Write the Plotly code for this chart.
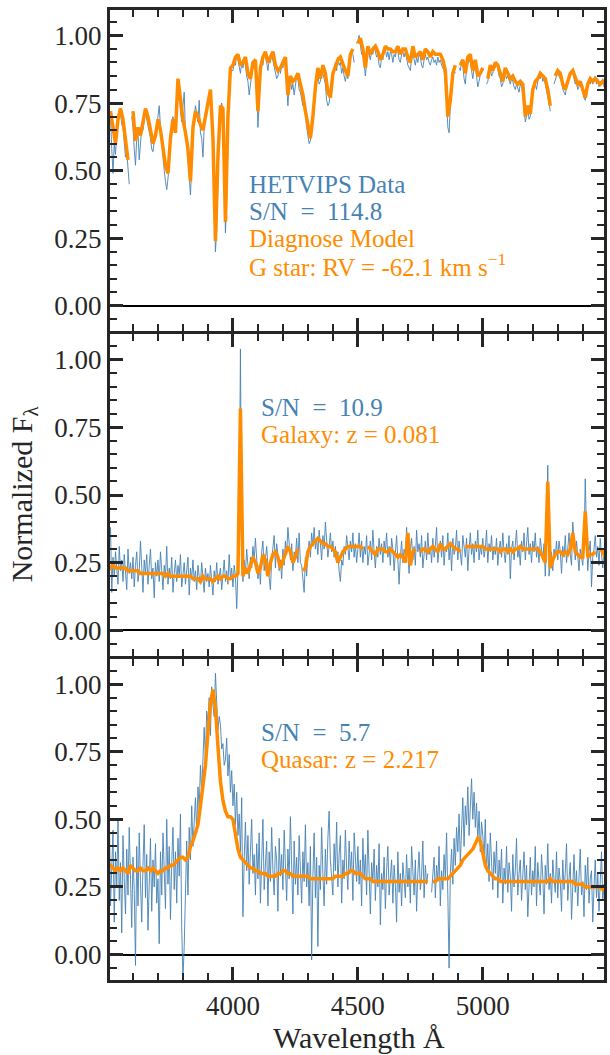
import numpy as np
import plotly.graph_objects as go
from plotly.subplots import make_subplots

# Wavelength sampling (Angstrom): model on a 10 A grid, spectra on a 5 A grid
MODEL_WAVE = np.arange(3500, 5500, 10)
DATA_WAVE = np.arange(3500, 5500, 5)

# Normalized flux values in hundredths; None marks masked pixels.
# ---------------- G star ----------------
STAR_MODEL = [
    68, 72, 66, 60, 69, 73, 69, 60, 54, None,
    72, 61, 66, 63, 68, 73, 70, 65, 60, 63,
    69, 65, 58, 52, 49, 62, 69, 64, 84, 75,
    69, 64, 58, 46, 66, 72, 70, 67, 65, 70,
    76, 80, 62, 24, 55, 74, 73, 31, 70, 88,
    89, 92, 93, 89, 90, 92, 86, 84, 90, 91,
    72, 88, 92, 94, 90, 92, 94, 89, 87, 88,
    90, 92, 78, 85, 83, 84, 86, 82, 78, 72,
    66, 62, 70, 81, 88, 84, 89, 86, 79, 77,
    86, 89, 91, 92, 89, 87, 85, 93, 95, None,
    97, 99, 95, 88, 96, 93, 95, 96, 94, 91,
    93, 96, 95, 95, 94, 94, 96, 93, 95, 95,
    92, 90, 96, 92, 93, 94, 91, 95, 94, 92,
    94, 93, 93, 93, 91, 87, 70, 76, 86, 89,
    None, 89, 91, 86, 92, 93, 87, 91, 85, 86,
    88, None, 84, 89, 87, 90, 89, 86, 83, 88,
    86, 84, 85, 83, 82, 83, 82, 70, 74, 71,
    80, 83, 84, 86, 85, 84, 80, 74, None, 85,
    87, 86, 82, 80, 83, 86, 87, 84, 82, 83,
    80, 77, 82, 84, 83, 84, 83, 82, 83, 82,
]
STAR_DATA = [
    62, 66, 70, 58, 49, 60, 56, 64, 68, 70, 71, 67, 66, 60, 55, 57, 50, 45, None, 70,
    66, 58, 52, 62, 64, 54, 60, 66, 65, 70, 72, 69, 67, 64, 62, 58, 57, 61, 62, 66,
    71, 74, 66, 60, 55, 50, 46, 43, 47, 55, 63, 67, 70, 66, 68, 78, 81, 80, 72, 68,
    74, 79, 63, 60, 55, 48, 41, 52, 64, 70, 74, 71, 68, 76, 64, 62, 55, 66, 72, 71,
    74, 78, 79, 72, 60, 40, 20, 28, 52, 66, 73, 75, 70, 45, 27, 40, 68, 82, 86, 87,
    87, 90, 89, 93, 91, 88, 86, 90, 88, 91, 89, 85, 83, 78, 82, 87, 89, 90, 88, 84,
    66, 75, 86, 90, 89, 93, 92, 90, 87, 91, 90, 93, 91, 88, 86, 84, 85, 88, 86, 89,
    88, 91, 89, 80, 74, 82, 84, 80, 82, 78, 83, 85, 84, 80, 79, 77, 74, 76, 70, 66,
    63, 60, 61, 66, 72, 78, 80, 86, 85, 82, 83, 87, 86, 84, 82, 76, 74, 75, 79, 84,
    85, 88, 90, 87, 92, 89, 90, 86, 88, 85, 83, 86, 84, 90, 92, 94, 93, 90, None, 97,
    98, 100, 97, 93, 94, 88, 85, 90, 95, 93, 91, 94, 93, 96, 94, 92, 93, 89, 88, 92,
    91, 94, 95, 92, 94, 91, 94, 93, 90, 93, 92, 95, 94, 91, 90, 93, 94, 92, 94, 91,
    89, 88, 87, 92, 94, 91, 89, 92, 90, 93, 92, 89, 88, 91, 93, 91, 92, 90, 89, 91,
    92, 90, 91, 89, 92, 90, 91, 89, 88, 87, 82, 76, 66, 64, 74, 80, 84, 87, 86, None,
    None, 88, 87, 90, 89, 84, 82, 88, 90, 91, 90, 86, 84, 88, 89, 85, 81, 83, 85, 88,
    87, None, None, 82, 83, 86, 88, 85, 86, 89, 88, 90, 87, 85, 84, 81, 82, 85, 86, 84,
    85, 83, 82, 84, 83, 81, 80, 82, 80, 79, 82, 81, 78, 73, 68, 70, 73, 69, 70, 76,
    79, 81, 82, 80, 83, 85, 84, 86, 83, 84, 82, 80, 78, 75, 72, None, None, 82, 84, 85,
    86, 85, 84, 83, 80, 79, 78, 81, 82, 84, 85, 87, 86, 84, 82, 83, 80, 81, 83, 82,
    79, 77, 76, 80, 81, 83, 82, 84, 82, 83, 85, 82, 84, 81, 83, 82, 84, 81, 83, 82,
]

# ---------------- Galaxy ----------------
GALAXY_MODEL = [
    24, 23, 24, 23, 23, 23, 23, 23, 22, 22,
    22, 22, 22, 21, 21, 21, 21, 21, 21, 21,
    21, 21, 21, 20, 21, 20, 20, 20, 20, 20,
    20, 20, 20, 20, 19, 19, 19, 18, 20, 19,
    19, 19, 18, 19, 20, 19, 20, 20, 19, 19,
    20, 20, 21, 82, 20, 23, 21, 24, 27, 25,
    21, 23, 28, 26, 20, 25, 28, 29, 27, 23,
    26, 28, 31, 29, 25, 27, 30, None, 22, 23,
    29, 31, 32, 33, 34, 33, 32, 32, 31, 31,
    30, 29, 25, 27, 29, 30, 31, 31, 31, 31,
    31, 31, 30, None, 31, 30, 29, 28, 30, 30,
    30, 29, 29, 30, 29, 28, 27, 28, 27, 25,
    36, 24, 29, 30, None, 29, 30, 30, 29, 30,
    31, 30, 29, 32, 30, 30, 31, 32, 31, 30,
    30, 29, None, 31, 31, 31, 31, 31, 31, 31,
    31, 30, 30, 30, 30, 30, 30, 29, 30, 30,
    29, 30, 29, 30, 30, 31, 30, 30, 30, 30,
    30, 30, 30, 29, 27, 25, 55, 23, 26, 28,
    29, 29, 28, 29, 28, 30, 36, 29, 28, 27,
    27, 44, 27, 28, 28, 29, None, 30, 29, 27,
]
GALAXY_DATA = [
    5, 30, 38, 14, 27, 20, 29, 24, 17, 31, 22, 26, 18, 28, 23, 15, 30, 21, 25, 19,
    27, 16, 24, 29, 18, 22, 33, 20, 14, 26, 21, 28, 17, 24, 30, 19, 23, 12, 25, 20,
    26, 18, 29, 22, 15, 24, 20, 31, 17, 23, 19, 27, 14, 21, 26, 18, 24, 20, 28, 16,
    22, 25, 17, 21, 27, 13, 23, 19, 26, 18, 22, 15, 24, 20, 17, 25, 19, 14, 23, 18,
    21, 16, 24, 19, 13, 22, 18, 25, 17, 20, 23, 15, 21, 26, 18, 22, 17, 28, 19, 23,
    16, 24, 20, 8, 22, 38, 104, 30, 18, 26, 21, 30, 24, 19, 27, 23, 31, 26, 34, 28,
    19, 24, 17, 29, 33, 22, 27, 31, 24, 18, 15, 26, 30, 35, 23, 32, 28, 22, 26, 19,
    30, 24, 33, 28, 38, 30, 26, 32, 22, 29, 27, 34, 25, 36, 25, 24, 18, 14, 27, 20,
    29, 33, 27, 36, 31, 38, 30, 34, 28, 37, 32, 26, 35, 30, 40, 33, 27, 31, 36, 29,
    33, 27, 31, 25, 29, 22, 18, 26, 24, 31, 28, 35, 30, 26, 33, 29, 36, 27, 32, 25,
    30, 36, 27, 33, 25, 31, 28, 35, 24, 30, 33, 26, 37, 29, 23, 31, 27, 34, 28, 32,
    25, 33, 29, 36, 27, 31, 24, 34, 30, 22, 28, 35, 26, 17, 27, 33, 25, 30, 28, 38,
    28, 21, 30, 34, 26, 31, 24, 37, 29, 32, 27, 35, 23, 30, 33, 26, 36, 28, 31, 25,
    34, 27, 31, 38, 25, 30, 33, 27, 35, 24, 31, 29, 36, 26, 32, 22, 34, 28, 30, 37,
    26, 33, 29, 24, 35, 31, 27, 34, 22, 30, 36, 28, 32, 25, 33, 29, 37, 26, 31, 28,
    34, 27, 30, 37, 25, 32, 29, 35, 26, 31, 28, 34, 24, 30, 33, 27, 36, 29, 25, 32,
    28, 35, 19, 30, 33, 26, 31, 37, 27, 30, 24, 33, 29, 36, 26, 31, 38, 28, 32, 25,
    33, 29, 36, 27, 31, 25, 34, 30, 26, 32, 20, 33, 61, 20, 24, 29, 22, 30, 27, 33,
    26, 33, 29, 21, 31, 27, 35, 25, 30, 36, 28, 24, 40, 30, 26, 33, 28, 22, 30, 27,
    24, 31, 56, 36, 22, 29, 33, 16, 27, 30, 35, 27, 31, 24, 34, 28, 23, 30, 26, 29,
]

# ---------------- Quasar ----------------
QUASAR_MODEL = [
    33, 33, 32, 31, 32, 31, 32, 31, 30, 33,
    32, 31, 31, 32, 31, 31, 32, 31, 32, 31,
    30, 31, 31, 32, 32, 33, 33, 34, 35, 36,
    36, 35, 36, 40, 42, 45, 48, 55, 62, 70,
    82, 93, 98, 91, 77, 64, 57, 53, 51, 51,
    50, 44, 39, 36, 35, 34, 33, 32, 32, 31,
    31, 30, 30, 30, 29, 29, 29, 29, 30, 30,
    31, 31, 30, 30, 29, 29, 29, 29, 29, 29,
    29, 28, 28, 28, 28, 28, 28, 28, 28, 28,
    28, 29, 29, 29, 29, 30, 30, 31, 31, 30,
    30, 30, 29, 28, 28, 28, 27, 27, 27, 27,
    27, 27, 27, 27, 27, 27, 27, 27, 27, 27,
    27, 27, 27, 27, 27, 27, 27, 27, 27, None,
    27, 27, 28, 28, 28, 28, 28, 29, 30, 31,
    32, 33, 35, 36, 37, 38, 39, 41, 43, 42,
    37, 33, 31, 30, 29, 28, 28, 27, 27, 27,
    27, 27, 27, 27, 27, 27, 27, 27, 27, 27,
    27, 27, 27, 27, 27, 27, 27, 28, 27, 27,
    27, 27, 27, 27, 27, 27, 27, 26, 26, 26,
    26, 25, 25, 25, 25, 25, 25, 25, 24, 24,
]
QUASAR_DATA = [
    42, 55, 18, 31, 46, 12, 38, 25, 50, 20, 34, 8, 44, 28, 15, 39, 22, 47, 30, 10,
    36, 24, -4, 40, 18, 45, 27, 12, 33, 48, 21, 37, 9, 29, 43, 16, 35, 25, 41, 19,
    28, 4, 38, 22, 45, 31, 17, 50, 26, 40, 13, 34, 47, 24, 38, 19, 43, 29, 52, 10,
    -9, 3, 28, 42, 22, 47, 35, 55, 40, 50, 58, 45, 62, 54, 70, 60, 77, 84, 72, 90,
    86, 95, 81, 99, 92, 88, 104, 93, 83, 88, 85, 76, 78, 70, 72, 80, 66, 74, 60, 68,
    55, 63, 48, 60, 44, 52, 38, 58, 14, 35, 49, 31, 44, 26, 40, 50, 30, 37, 22, 41,
    28, 45, 19, 36, 50, 24, 33, 42, 18, 38, 27, 47, 31, 22, 40, 35, 16, 43, 29, 37,
    24, 46, 33, 20, 39, 28, 51, 31, 15, 42, 26, 36, 22, 44, 30, 19, 38, 27, 48, 25,
    34, 18, 40, -2, 29, 45, 21, 36, 3, 33, 24, 47, 30, 18, 39, 26, 43, 53, 35, 28,
    22, 41, 31, 49, 25, 37, 44, 19, 35, 28, 46, 32, 24, 42, 30, 38, 20, 45, 33, 27,
    40, 26, 35, 18, 43, 29, 37, 22, 46, 31, 15, 34, 27, 39, 20, 33, 25, 41, 11, 30,
    24, 36, 17, 31, 40, 22, 28, 35, 19, 33, 26, 12, 38, 23, 30, 18, 34, 27, 21, 37,
    25, 32, 19, 40, 28, 22, 35, 16, 30, 38, 24, 29, 42, 21, 33, 26, 30, None, None, 23,
    29, 36, 21, 33, 27, 40, 18, 31, 24, 37, 28, 45, 22, -5, 30, 39, 26, 43, 33, 47,
    38, 52, 34, 46, 58, 40, 55, 48, 62, 44, 57, 65, 50, 60, 47, 56, 42, 53, 38, 49,
    44, 35, 50, 31, 41, 27, 45, 33, 24, 38, 30, 42, 21, 35, 28, 39, 19, 32, 26, 40,
    23, 34, 29, 16, 37, 25, 31, 43, 22, 30, 35, 20, 28, 38, 24, 33, 14, 29, 36, 22,
    31, 25, 40, 18, 34, 27, 22, 37, 29, 15, 33, 26, 41, 24, 30, 19, 35, 28, 23, 38,
    21, 32, 27, 16, 35, 24, 30, 41, 20, 28, 34, 13, 26, 37, 23, 31, 18, 29, 39, 22,
    27, 14, 33, 24, 36, 19, 28, 31, 12, 25, 35, 21, 30, 16, 27, 38, 20, 26, 13, 29,
]

# Label text for each panel
PANEL_LABELS = [
    [("HETVIPS Data", "data"), ("S/N\u00a0\u00a0=\u00a0\u00a0114.8", "data"),
     ("Diagnose Model", "model"), ("G star: RV = -62.1 km s<sup>\u22121</sup>", "model")],
    [("S/N\u00a0\u00a0=\u00a0\u00a010.9", "data"), ("Galaxy: z = 0.081", "model")],
    [("S/N\u00a0\u00a0=\u00a0\u00a05.7", "data"), ("Quasar: z = 2.217", "model")],
]
X_TICKS = [4000, 4500, 5000]
Y_TICKS = [0.0, 0.25, 0.50, 0.75, 1.00]


def flux(values):
    return np.array(values, dtype=float) / 100.0


for arr, n in [(STAR_MODEL, 200), (GALAXY_MODEL, 200), (QUASAR_MODEL, 200),
               (STAR_DATA, 400), (GALAXY_DATA, 400), (QUASAR_DATA, 400)]:
    assert len(arr) == n, len(arr)

BLUE = "rgba(70,130,180,0.9)"
BLUE_TXT = "#4682b4"
ORANGE = "#ff8c00"
INK = "#262626"
FONT = "Liberation Serif"

W, H = 610, 1055
ML, MR, MT, MB = 109.5, 3, 9.5, 75
PW, PH = W - ML - MR, H - MT - MB
GAP = 3.0
PANEL_H = (PH - 2 * GAP) / 3

fig = make_subplots(rows=3, cols=1, shared_xaxes=True, vertical_spacing=0)

series = [(STAR_DATA, STAR_MODEL), (GALAXY_DATA, GALAXY_MODEL), (QUASAR_DATA, QUASAR_MODEL)]
for row, (data, model) in enumerate(series, start=1):
    fig.add_trace(go.Scatter(x=DATA_WAVE, y=flux(data), mode="lines",
                             line=dict(color=BLUE, width=1), connectgaps=False,
                             showlegend=False, hoverinfo="skip"), row=row, col=1)
    fig.add_trace(go.Scatter(x=MODEL_WAVE, y=flux(model), mode="lines",
                             line=dict(color=ORANGE, width=3.5), connectgaps=False,
                             showlegend=False, hoverinfo="skip"), row=row, col=1)

# panel domains (top panel first), separated by the width of the frame line
domains = []
for i in range(3):
    top = PH - i * (PANEL_H + GAP)
    bottom = top - PANEL_H
    domains.append([bottom / PH, top / PH])

tick_font = dict(family=FONT, size=27, color=INK)
for i in range(3):
    row = i + 1
    fig.update_xaxes(row=row, col=1, range=[3508, 5485], tickvals=X_TICKS,
                     tickformat="d", showline=True, linewidth=3,
                     linecolor=INK, mirror="allticks", ticks="inside", ticklen=13,
                     tickwidth=3, tickcolor=INK, showgrid=False, zeroline=False,
                     showticklabels=(row == 3), tickfont=tick_font,
                     minor=dict(tickmode="linear", dtick=100, tick0=4000, ticks="inside",
                                ticklen=7, tickwidth=1.5, tickcolor=INK, showgrid=False))
    fig.update_yaxes(row=row, col=1, domain=domains[i], range=[-0.094, 1.094],
                     tickvals=Y_TICKS, tickformat=".2f",
                     showline=True, linewidth=3, linecolor=INK, mirror="allticks",
                     ticks="inside", ticklen=13, tickwidth=3, tickcolor=INK,
                     showgrid=False, zeroline=True, zerolinecolor="black",
                     zerolinewidth=1.5, tickfont=tick_font,
                     minor=dict(tickmode="linear", dtick=0.05, tick0=0, ticks="inside",
                                ticklen=7, tickwidth=1.5, tickcolor=INK, showgrid=False))


def px_x(px):
    return (px - ML) / PW


def px_y(py):
    return (H - MB - py) / PH


annotations = []
label_pos = [(247, [183, 210, 237, 264]), (260, [406, 433]), (260, [731, 758])]
for (left, rows), labels in zip(label_pos, PANEL_LABELS):
    for py, (text, kind) in zip(rows, labels):
        annotations.append(dict(
            x=px_x(left), y=px_y(py + 1), xref="paper", yref="paper",
            xanchor="left", yanchor="middle", showarrow=False, text=text,
            font=dict(family=FONT, size=25, color=BLUE_TXT if kind == "data" else ORANGE)))

annotations.append(dict(x=px_x(23), y=px_y(494), xref="paper", yref="paper",
                        xanchor="center", yanchor="middle", showarrow=False,
                        textangle=-90, text="Normalized F<sub>\u03bb</sub>",
                        font=dict(family=FONT, size=30, color=INK)))
annotations.append(dict(x=px_x(360), y=px_y(1038), xref="paper", yref="paper",
                        xanchor="center", yanchor="middle", showarrow=False,
                        text="Wavelength \u00c5",
                        font=dict(family=FONT, size=30, color=INK)))

fig.update_layout(width=W, height=H, margin=dict(l=ML, r=MR, t=MT, b=MB, pad=0),
                  paper_bgcolor="white", plot_bgcolor="white",
                  font=dict(family=FONT, color=INK),
                  annotations=annotations, showlegend=False)

fig.write_html("out.html")
